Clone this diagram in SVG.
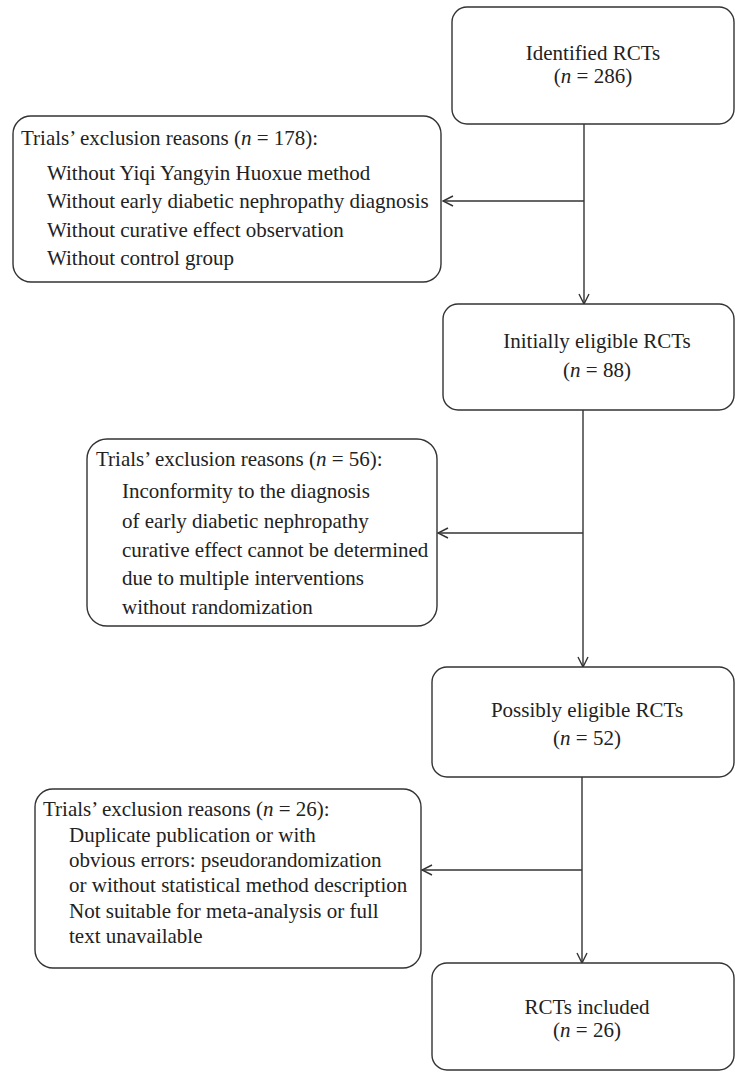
<svg xmlns="http://www.w3.org/2000/svg" width="735" height="1072" viewBox="0 0 735 1072">
<style>
.box{fill:#fff;stroke:#333;stroke-width:1.4}
.t{font-family:"Liberation Serif","Times New Roman",serif;font-size:21px;fill:#222}
.c{text-anchor:middle}
.i{font-style:italic}
.ln{stroke:#333;stroke-width:1.4;fill:none}
</style>
<defs>
<marker id="ah" viewBox="0 0 12 12" refX="11" refY="6" markerWidth="12" markerHeight="12" markerUnits="userSpaceOnUse" orient="auto">
<path d="M1,1 L11,6 L1,11" fill="none" stroke="#333" stroke-width="1.4"/>
</marker>
</defs>
<g id="connectors">
<line class="ln" x1="584" y1="124" x2="584" y2="304" marker-end="url(#ah)"/>
<line class="ln" x1="584" y1="201" x2="443" y2="201" marker-end="url(#ah)"/>
<line class="ln" x1="583" y1="410" x2="583" y2="667" marker-end="url(#ah)"/>
<line class="ln" x1="583" y1="533" x2="438" y2="533" marker-end="url(#ah)"/>
<line class="ln" x1="582" y1="777" x2="582" y2="963" marker-end="url(#ah)"/>
<line class="ln" x1="582" y1="870" x2="422" y2="870" marker-end="url(#ah)"/>
</g>
<g id="identified">
<rect class="box" x="452" y="7" width="282" height="117" rx="15"/>
<text class="t c" x="593" y="60">Identified RCTs</text>
<text class="t c" x="593" y="83">(<tspan class="i">n</tspan> = 286)</text>
</g>
<g id="excl178">
<rect class="box" x="13" y="116" width="428" height="166" rx="18"/>
<text class="t" x="21" y="145">Trials’ exclusion reasons (<tspan class="i">n</tspan> = 178):</text>
<text class="t" x="47" y="180">Without Yiqi Yangyin Huoxue method</text>
<text class="t" x="47" y="208">Without early diabetic nephropathy diagnosis</text>
<text class="t" x="47" y="237">Without curative effect observation</text>
<text class="t" x="47" y="265">Without control group</text>
</g>
<g id="initially">
<rect class="box" x="443" y="304" width="291" height="106" rx="15"/>
<text class="t c" x="597" y="348">Initially eligible RCTs</text>
<text class="t c" x="597" y="377">(<tspan class="i">n</tspan> = 88)</text>
</g>
<g id="excl56">
<rect class="box" x="87" y="439" width="350" height="187" rx="20"/>
<text class="t" x="96" y="466">Trials’ exclusion reasons (<tspan class="i">n</tspan> = 56):</text>
<text class="t" x="122" y="498">Inconformity to the diagnosis</text>
<text class="t" x="122" y="528">of early diabetic nephropathy</text>
<text class="t" x="122" y="557">curative effect cannot be determined</text>
<text class="t" x="122" y="585">due to multiple interventions</text>
<text class="t" x="122" y="614">without randomization</text>
</g>
<g id="possibly">
<rect class="box" x="432" y="667" width="302" height="110" rx="15"/>
<text class="t c" x="587" y="717">Possibly eligible RCTs</text>
<text class="t c" x="587" y="745">(<tspan class="i">n</tspan> = 52)</text>
</g>
<g id="excl26">
<rect class="box" x="35" y="789" width="386" height="179" rx="18"/>
<text class="t" x="43" y="816">Trials’ exclusion reasons (<tspan class="i">n</tspan> = 26):</text>
<text class="t" x="69" y="842">Duplicate publication or with</text>
<text class="t" x="69" y="867">obvious errors: pseudorandomization</text>
<text class="t" x="69" y="892">or without statistical method description</text>
<text class="t" x="69" y="918">Not suitable for meta-analysis or full</text>
<text class="t" x="69" y="943">text unavailable</text>
</g>
<g id="included">
<rect class="box" x="432" y="963" width="302" height="107" rx="15"/>
<text class="t c" x="587" y="1014">RCTs included</text>
<text class="t c" x="587" y="1037">(<tspan class="i">n</tspan> = 26)</text>
</g>
</svg>
